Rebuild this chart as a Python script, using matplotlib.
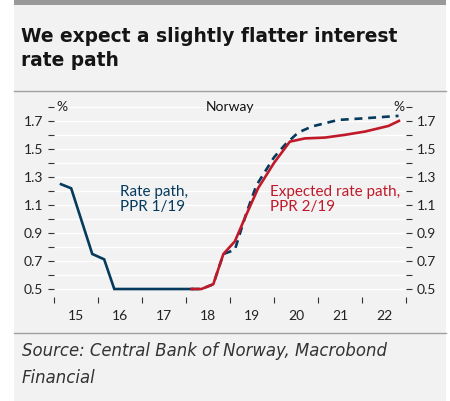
import matplotlib
matplotlib.use("Agg")
import matplotlib.pyplot as plt
from matplotlib.ticker import FixedLocator, NullFormatter
from matplotlib.lines import Line2D
from matplotlib.patches import Rectangle

# historical policy rate (solid blue)
hist_x = [2015.16, 2015.39, 2015.87, 2016.14, 2016.37, 2018.13]
hist_y = [1.248, 1.219, 0.75, 0.712, 0.50, 0.50]

# rate path PPR 1/19 (dashed blue)
ppr1_x = [2018.13, 2018.35, 2018.62, 2018.85, 2019.11, 2019.37, 2019.6, 2020.0,
          2020.25, 2020.55, 2020.86, 2021.46, 2022.07, 2022.83]
ppr1_y = [0.50, 0.50, 0.534, 0.75, 0.78, 1.04, 1.24, 1.44,
          1.53, 1.617, 1.66, 1.707, 1.719, 1.736]

# expected rate path PPR 2/19 (red)
ppr2_x = [2018.13, 2018.35, 2018.62, 2018.85, 2019.11, 2019.37, 2019.64, 2020.0,
          2020.36, 2020.7, 2021.16, 2021.6, 2022.07, 2022.6, 2022.84]
ppr2_y = [0.50, 0.50, 0.534, 0.75, 0.84, 1.03, 1.22, 1.40,
          1.552, 1.575, 1.581, 1.60, 1.624, 1.664, 1.70]

year_labels = ["15", "16", "17", "18", "19", "20", "21", "22"]
y_labels = [0.5, 0.7, 0.9, 1.1, 1.3, 1.5, 1.7]

blue = "#053a5c"
red = "#c01a2a"
bg = "#f2f2f2"
font = "Lato"
wide = "DejaVu Sans"

fig = plt.figure(figsize=(4.5, 4.01), dpi=100)
fig.patch.set_facecolor("white")
W, H = 450, 401

def fx(px):
    return px / W

def fy(py):
    return 1 - py / H

# panel background and rules
fig.patches.append(Rectangle((fx(14), 0), fx(432), 1, transform=fig.transFigure,
                             facecolor=bg, edgecolor="none", zorder=-10))
fig.patches.append(Rectangle((fx(14), fy(4.5)), fx(432), 4.5 / H, transform=fig.transFigure,
                             facecolor="#999999", edgecolor="none", zorder=-9))
for py in (90.5, 333):
    fig.lines.append(Line2D([fx(14), fx(446)], [fy(py), fy(py)], transform=fig.transFigure,
                            color="#a0a0a0", lw=1.0))

fig.text(fx(21), fy(42), "We expect a slightly flatter interest",
         fontsize=13.4, family=wide, weight="bold", color="#151515", va="baseline")
fig.text(fx(21), fy(66), "rate path",
         fontsize=13.4, family=wide, weight="bold", color="#151515", va="baseline")
fig.text(fx(22), fy(356), "Source: Central Bank of Norway, Macrobond",
         fontsize=11.9, family=wide, style="italic", color="#333333", va="baseline")
fig.text(fx(22), fy(383), "Financial",
         fontsize=11.9, family=wide, style="italic", color="#333333", va="baseline")

ax = fig.add_axes([fx(54), fy(297), fx(406 - 54), (297 - 105.5) / H])
ax.set_facecolor(bg)
ax.set_xlim(2015, 2023)
ax.set_ylim(0.443, 1.81)
for s in ax.spines.values():
    s.set_visible(False)

ax.yaxis.set_major_locator(FixedLocator(y_labels))
ax.yaxis.set_minor_locator(FixedLocator([0.6, 0.8, 1.0, 1.2, 1.4, 1.6, 1.8]))
ax.set_yticklabels([f"{v:.1f}" for v in y_labels])
ax.tick_params(axis="y", which="both", left=True, right=True, labelleft=True,
               labelright=True, length=4, width=0.8, color="#333333", pad=4,
               labelsize=10, labelcolor="#222222")
for lab in ax.get_yticklabels():
    lab.set_family(font)

ax.xaxis.set_major_locator(FixedLocator(range(2015, 2024)))
ax.xaxis.set_minor_locator(FixedLocator([2015.5 + i for i in range(len(year_labels))]))
ax.xaxis.set_major_formatter(NullFormatter())
ax.set_xticklabels(year_labels, minor=True)
ax.tick_params(axis="x", which="major", length=4, width=0.8, color="#333333")
ax.tick_params(axis="x", which="minor", length=0, pad=9, labelsize=10, labelcolor="#222222")
for lab in ax.get_xticklabels(minor=True):
    lab.set_family(font)

for v in [0.5 + 0.1 * i for i in range(14)]:
    ax.axhline(v, color="white", lw=1.0, zorder=0)

ax.plot(ppr1_x, ppr1_y, color=blue, lw=1.9, linestyle=(0, (3, 2.2)), zorder=2)
ax.plot(hist_x, hist_y, color=blue, lw=1.9, zorder=3, solid_joinstyle="miter")
ax.plot(ppr2_x, ppr2_y, color=red, lw=1.9, zorder=4)

ax.text(2015.05, 1.8, "%", fontsize=10, family=font, color="#222222", va="center", ha="left")
ax.text(2022.97, 1.8, "%", fontsize=10, family=font, color="#222222", va="center", ha="right")
ax.text(2019.0, 1.8, "Norway", fontsize=10, family=font, color="#111111", va="center", ha="center")
ax.text(2016.5, 1.14, "Rate path,\nPPR 1/19", fontsize=11, family=font, color=blue,
        va="center", ha="left", linespacing=1.1)
ax.text(2019.91, 1.14, "Expected rate path,\nPPR 2/19", fontsize=11, family=font, color=red,
        va="center", ha="left", linespacing=1.1)

fig.savefig("out.png", dpi=100, facecolor=fig.get_facecolor())
